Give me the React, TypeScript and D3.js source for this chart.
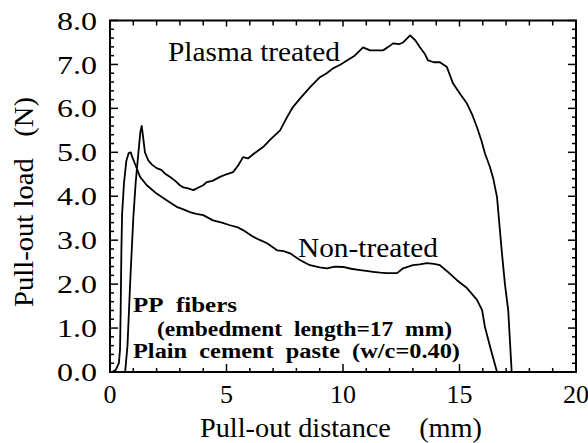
import React from "react";
import * as d3 from "d3";

const plasmaDistance = [0.65,0.75,0.88,1.0,1.1,1.22,1.3,1.36,1.42,1.5,1.64,1.8,2.0,2.2,2.4,2.58,2.8,3.0,3.15,3.35,3.58,3.8,4.0,4.15,4.4,4.72,5.0,5.28,5.5,5.71,5.92,6.2,6.57,6.9,7.3,7.6,7.85,8.2,8.58,9.01,9.3,9.57,9.9,10.17,10.5,10.86,11.16,11.5,11.72,11.95,12.15,12.4,12.58,12.88,13.1,13.3,13.5,13.65,13.9,14.16,14.46,14.72,15.0,15.32,15.55,15.75,15.95,16.09,16.31,16.45,16.61,16.81,16.95,17.09,17.24];
const plasmaLoad = [0,0.6,2.2,3.5,4.3,5.0,5.45,5.6,5.35,5.0,4.82,4.72,4.64,4.6,4.5,4.44,4.35,4.25,4.2,4.18,4.14,4.2,4.25,4.32,4.35,4.44,4.5,4.55,4.7,4.89,4.86,4.98,5.12,5.3,5.5,5.8,6.03,6.25,6.48,6.71,6.8,6.91,7.0,7.09,7.2,7.39,7.32,7.32,7.32,7.4,7.48,7.46,7.5,7.66,7.55,7.39,7.25,7.09,7.05,7.05,6.94,6.57,6.35,6.11,5.85,5.57,5.25,4.98,4.66,4.4,3.98,2.77,2.0,1.41,0];

const nonTreatedDistance = [0.1,0.25,0.38,0.43,0.46,0.49,0.52,0.6,0.7,0.8,0.89,0.95,1.07,1.29,1.58,2.0,2.43,2.86,3.15,3.43,3.7,4.0,4.42,4.8,5.15,5.45,5.71,6.14,6.45,6.74,7.17,7.45,7.73,8.15,8.58,9.0,9.31,9.65,10.0,10.35,10.73,11.0,11.29,11.6,11.89,12.32,12.58,13.0,13.3,13.6,13.9,14.16,14.5,14.89,15.32,15.75,15.97,16.09,16.31,16.61];
const nonTreatedLoad = [0,0.05,0.2,0.5,1.5,2.8,3.6,4.3,4.8,4.98,5.0,4.9,4.74,4.44,4.25,4.06,3.91,3.76,3.7,3.64,3.6,3.57,3.45,3.4,3.34,3.3,3.23,3.08,3.0,2.93,2.77,2.75,2.7,2.55,2.43,2.38,2.36,2.4,2.39,2.35,2.32,2.3,2.28,2.26,2.25,2.25,2.36,2.43,2.45,2.48,2.46,2.43,2.28,2.09,1.91,1.64,1.41,1.03,0.58,0];

const xTickValues = [0, 5, 10, 15, 20];
const yTickValues = [0, 1, 2, 3, 4, 5, 6, 7, 8];
const xTitle = "Pull-out distance\u00a0\u00a0\u00a0\u00a0(mm)";
const yTitle = "Pull-out load\u00a0\u00a0\u00a0(N)";
const plasmaLabel = "Plasma treated";
const nonTreatedLabel = "Non-treated";
const noteLines = ["PP\u00a0\u00a0fibers", "(embedment\u00a0\u00a0length=17\u00a0\u00a0mm)", "Plain\u00a0\u00a0cement\u00a0\u00a0paste\u00a0\u00a0(w/c=0.40)"];

const W = 588, H = 443;
const L = 110, R = 576, T = 20.5, B = 372;

export default function App() {
  const x = d3.scaleLinear().domain([0, 20]).range([L, R]);
  const y = d3.scaleLinear().domain([0, 8]).range([B, T]);
  const line = d3.line<[number, number]>().x(d => x(d[0])).y(d => y(d[1]));
  const plasma: [number, number][] = plasmaDistance.map((d, i) => [d, plasmaLoad[i]]);
  const non: [number, number][] = nonTreatedDistance.map((d, i) => [d, nonTreatedLoad[i]]);
  const xMinor = d3.range(0, 21, 1);
  const yMinor = d3.range(0, 40.5, 1).map(v => v / 5);
  const font = "'Liberation Serif', 'DejaVu Serif', serif";
  const tf = { fontFamily: font };
  return (
    <svg width={W} height={H} style={{ position: "absolute", left: 0, top: 0, background: "#fff" }}>
      <rect x={0} y={0} width={W} height={H} fill="#fff" />
      <g stroke="#000" strokeWidth={1.5}>
        {xMinor.map(v => {
          const major = v % 5 === 0;
          return (
            <g key={"x" + v}>
              <line x1={x(v)} x2={x(v)} y1={B} y2={B - (major ? 8 : 4)} />
              <line x1={x(v)} x2={x(v)} y1={T} y2={T + (major ? 6 : 5)} />
            </g>
          );
        })}
        {yMinor.map(v => {
          const major = Math.abs(v - Math.round(v)) < 1e-6;
          return (
            <g key={"y" + v}>
              <line x1={L} x2={L + (major ? 8 : 4)} y1={y(v)} y2={y(v)} />
              <line x1={R} x2={R - (major ? 8 : 4)} y1={y(v)} y2={y(v)} />
            </g>
          );
        })}
      </g>
      <rect x={L} y={T} width={R - L} height={B - T} fill="none" stroke="#000" strokeWidth={2} />
      <path d={line(non) || ""} fill="none" stroke="#000" strokeWidth={1.8} strokeLinejoin="round" />
      <path d={line(plasma) || ""} fill="none" stroke="#000" strokeWidth={1.8} strokeLinejoin="round" />
      <g style={tf} fontSize={26} fill="#000">
        {yTickValues.map(v => (
          <text key={"yl" + v} style={tf} x={97} y={y(v)} dy="0.35em" textAnchor="end" textLength={40} lengthAdjust="spacingAndGlyphs">{v.toFixed(1)}</text>
        ))}
        {xTickValues.map(v => (
          <text key={"xl" + v} style={tf} x={x(v)} y={403} textAnchor="middle">{v}</text>
        ))}
        <text style={tf} x={(L + R) / 2 - 2} y={437} textAnchor="middle" fontSize={27} textLength={282} lengthAdjust="spacingAndGlyphs">{xTitle}</text>
        <text style={tf} transform={`translate(33, 202) rotate(-90)`} textAnchor="middle" fontSize={27} textLength={210} lengthAdjust="spacingAndGlyphs">{yTitle}</text>
        <text style={tf} x={168} y={61} fontSize={28} textLength={172} lengthAdjust="spacingAndGlyphs">{plasmaLabel}</text>
        <text style={tf} x={298} y={257} fontSize={28} textLength={140} lengthAdjust="spacingAndGlyphs">{nonTreatedLabel}</text>
      </g>
      <g style={tf} fontSize={20} fontWeight="bold" fill="#000">
        <text style={tf} x={133} y={312} textLength={104} lengthAdjust="spacingAndGlyphs">{noteLines[0]}</text>
        <text style={tf} x={157} y={336} textLength={295} lengthAdjust="spacingAndGlyphs">{noteLines[1]}</text>
        <text style={tf} x={133} y={358} textLength={327} lengthAdjust="spacingAndGlyphs">{noteLines[2]}</text>
      </g>
    </svg>
  );
}
